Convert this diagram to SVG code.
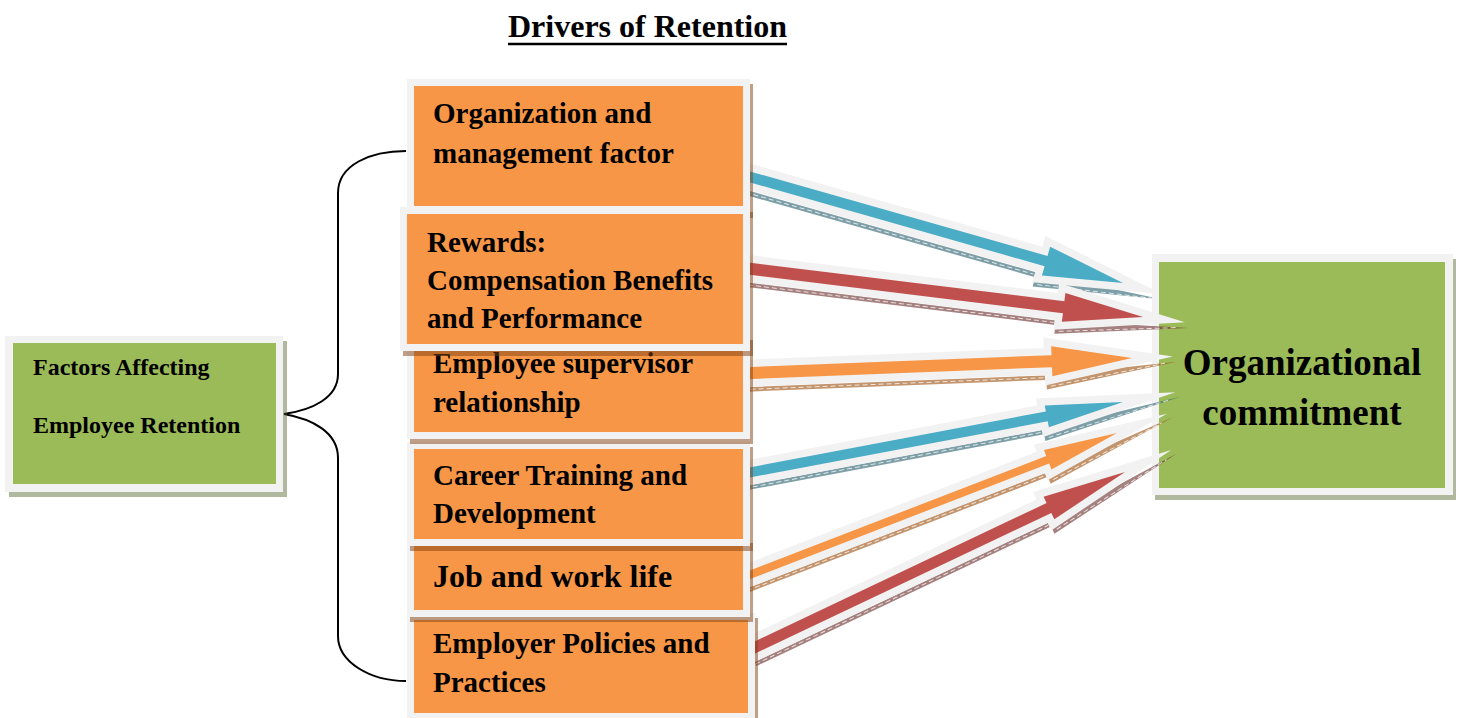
<svg xmlns="http://www.w3.org/2000/svg" width="1459" height="718" viewBox="0 0 1459 718">
  <style>
    text { font-family: "Liberation Serif", "Times New Roman", serif; font-weight: bold; fill: #000; }
    .frame { fill: #f2f2f2; }
    .org { fill: #f79646; }
    .grn { fill: #9bbb59; }
    .oshadow { fill: #7f3f10; fill-opacity: 0.5; }
    .gshadow { fill: #4f6228; fill-opacity: 0.45; }
    .lbl { font-size: 29px; }
    .halo { fill: #f2f2f2; stroke: #f2f2f2; stroke-width: 15; stroke-linejoin: miter; stroke-miterlimit: 20; }
    .dash { fill: none; stroke: #ffffff; stroke-opacity: 0.75; stroke-width: 1; stroke-dasharray: 5 3; }
    .sh-blue { fill: #215968; fill-opacity: 0.58; }
    .sh-red { fill: #632523; fill-opacity: 0.58; }
    .sh-org { fill: #974806; fill-opacity: 0.58; }
    .brace { fill: none; stroke: #000; stroke-width: 2; }
  </style>
  <defs>
    <!-- block-arrow outlines in local coordinates (x along the shaft) -->
    <polygon id="shaft1" points="-10,-5.3 305.7,-5.3 305.7,-15 385.7,0 305.7,15 305.7,5.3 -10,5.3"/>
    <polygon id="shaft2" points="-10,-6 314,-6 314,-14.5 394,0 314,14.5 314,6 -10,6"/>
    <polygon id="shaft3" points="-10,-6 300,-6 300,-15 380.3,0 300,15 300,6 -10,6"/>
    <polygon id="shaft4" points="-10,-5 300,-5 300,-11 377.5,0 300,11 300,5 -10,5"/>
    <polygon id="shaft5" points="-10,-4 317,-4 317,-10.5 391.3,0 317,10.5 317,4 -10,4"/>
    <polygon id="shaft6" points="-10,-5.5 322,-5.5 322,-12.5 406.2,0 322,12.5 322,5.5 -10,5.5"/>
    <clipPath id="behindGoal"><rect x="0" y="0" width="1152" height="718"/></clipPath>
  </defs>

  <!-- target node -->
  <g id="organizational-commitment">
    <rect class="gshadow" x="1155" y="259" width="301" height="241"/>
    <rect class="frame" x="1152" y="254" width="301" height="241"/>
    <rect class="grn" x="1159" y="262" width="286" height="226"/>
    <text x="1302" y="375" font-size="37" text-anchor="middle">Organizational</text>
    <text x="1302" y="425" font-size="37" text-anchor="middle">commitment</text>
  </g>

  <!-- connectors -->
  <g id="connectors">
    <path class="brace" d="M406,151 C370,151 338,165 338,193 L338,374 C338,398 312,410 284,414 C312,419 338,432 338,458 L338,636 C338,662 370,681 406,681"/>

    <g id="arrow-org-mgmt" clip-path="url(#behindGoal)">
      <g transform="translate(752 177.5) rotate(15.87)">
        <polygon class="sh-blue" points="-10,13.5 299.7,13.5 429.4,5 299.7,28 299.7,18.5 -10,18.5"/>
        <path class="dash" d="M-10,16 H297 M303.7,25 L419,6.5"/>
        <use href="#shaft1" class="halo"/>
        <use href="#shaft1" fill="#4bacc6"/>
      </g>
    </g>

    <g id="arrow-rewards" transform="translate(752 269) rotate(7)">
      <polygon class="sh-red" points="-10,14 308,14 440,5.5 308,27.5 308,18.5 -10,18.5"/>
      <path class="dash" d="M-10,16.25 H306 M312,24.5 L428,6.5"/>
      <use href="#shaft2" class="halo"/>
      <use href="#shaft2" fill="#c0504d"/>
    </g>

    <g id="arrow-supervisor" transform="translate(752 373) rotate(-2.26)">
      <polygon class="sh-org" points="-10,14 294,14 425,5.5 294,28 294,18.5 -10,18.5"/>
      <path class="dash" d="M-10,16.25 H292 M298,25 L413,6.5"/>
      <use href="#shaft3" class="halo"/>
      <use href="#shaft3" fill="#f79646"/>
    </g>

    <g id="arrow-career" transform="translate(752 472) rotate(-10.68)">
      <polygon class="sh-blue" points="-10,12.5 294,12.5 435,5.5 294,24 294,17 -10,17"/>
      <path class="dash" d="M-10,14.75 H292 M298,21 L423,6.5"/>
      <use href="#shaft4" class="halo"/>
      <use href="#shaft4" fill="#4bacc6"/>
    </g>

    <g id="arrow-job" transform="translate(752 574) rotate(-21.12)">
      <polygon class="sh-org" points="-10,11.5 311,11.5 449,5.5 311,23.5 311,16 -10,16"/>
      <path class="dash" d="M-10,13.75 H309 M315,20.5 L437,6.5"/>
      <use href="#shaft5" class="halo"/>
      <use href="#shaft5" fill="#f79646"/>
    </g>

    <g id="arrow-policies" transform="translate(758 646) rotate(-25.37)">
      <polygon class="sh-red" points="-10,13 316,13 461,5.5 316,25.5 316,17.5 -10,17.5"/>
      <path class="dash" d="M-10,15.25 H314 M320,22.5 L449,6.5"/>
      <use href="#shaft6" class="halo"/>
      <use href="#shaft6" fill="#c0504d"/>
    </g>
  </g>

  <!-- source node -->
  <g id="factors">
    <rect class="gshadow" x="9" y="341" width="278" height="156"/>
    <rect class="frame" x="5" y="336" width="278" height="156"/>
    <rect class="grn" x="13" y="343" width="263" height="141"/>
    <text x="33" y="375" font-size="24">Factors Affecting</text>
    <text x="33" y="433" font-size="24">Employee Retention</text>
  </g>

  <!-- driver boxes, stacked bottom to top -->
  <g id="employer-policies">
    <rect class="oshadow" x="410" y="618" width="348" height="107"/>
    <rect class="frame" x="407" y="613" width="348" height="107"/>
    <rect class="org" x="414" y="620" width="334" height="93"/>
    <text class="lbl" x="433" y="653">Employer Policies and</text>
    <text class="lbl" x="433" y="692">Practices</text>
  </g>

  <g id="job-work-life">
    <rect class="oshadow" x="410" y="543" width="343" height="79"/>
    <rect class="frame" x="407" y="538" width="343" height="79"/>
    <rect class="org" x="414" y="545" width="329" height="65"/>
    <text x="433" y="587" font-size="32">Job and work life</text>
  </g>

  <g id="career-training">
    <rect class="oshadow" x="410" y="447" width="343" height="104"/>
    <rect class="frame" x="407" y="442" width="343" height="104"/>
    <rect class="org" x="414" y="449" width="329" height="90"/>
    <text class="lbl" x="433" y="485">Career Training and</text>
    <text class="lbl" x="433" y="523">Development</text>
  </g>

  <g id="employee-supervisor">
    <rect class="oshadow" x="410" y="340" width="343" height="104"/>
    <rect class="frame" x="407" y="335" width="343" height="104"/>
    <rect class="org" x="414" y="342" width="329" height="90"/>
    <text class="lbl" x="433" y="373">Employee supervisor</text>
    <text class="lbl" x="433" y="412">relationship</text>
  </g>

  <g id="organization-management">
    <rect class="oshadow" x="410" y="84" width="343" height="134"/>
    <rect class="frame" x="407" y="79" width="343" height="134"/>
    <rect class="org" x="414" y="86" width="329" height="120"/>
    <text class="lbl" x="433" y="123">Organization and</text>
    <text class="lbl" x="433" y="163">management factor</text>
  </g>

  <g id="rewards">
    <rect class="oshadow" x="403" y="212" width="350" height="144"/>
    <rect class="frame" x="400" y="207" width="350" height="144"/>
    <rect class="org" x="407" y="214" width="336" height="130"/>
    <text class="lbl" x="427" y="252">Rewards:</text>
    <text class="lbl" x="427" y="290">Compensation Benefits</text>
    <text class="lbl" x="427" y="328">and Performance</text>
  </g>

  <!-- heading -->
  <g id="title">
    <text x="508" y="37" font-size="32">Drivers of Retention</text>
    <line x1="508" y1="44" x2="787" y2="44" stroke="#000" stroke-width="2.5"/>
  </g>
</svg>
